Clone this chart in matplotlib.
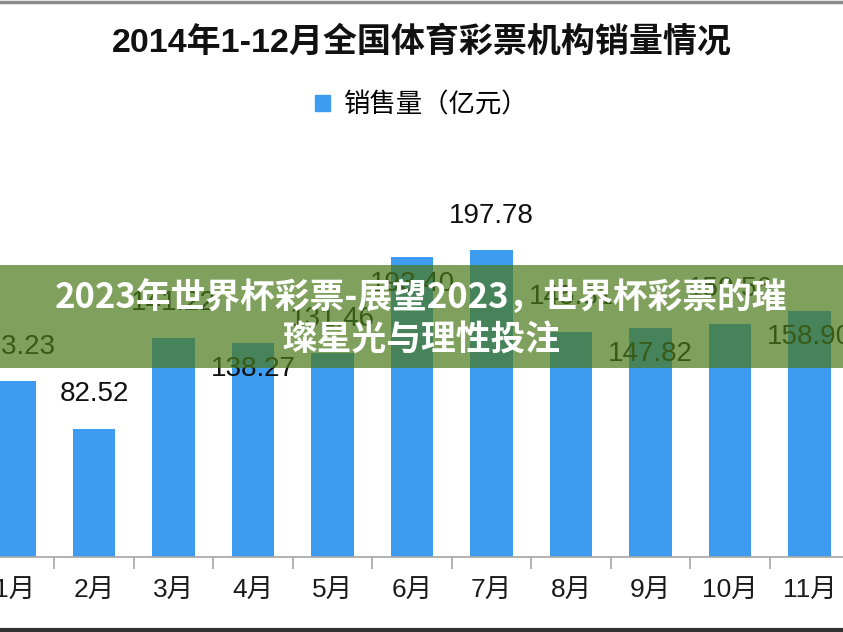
import matplotlib
matplotlib.use("Agg")
import matplotlib.pyplot as plt
from matplotlib import font_manager
from matplotlib.patches import Rectangle, Patch
from matplotlib.lines import Line2D

# data (12月 falls outside the cropped picture)
months = ["1月", "2月", "3月", "4月", "5月", "6月", "7月", "8月", "9月", "10月", "11月"]
sales = [113.23, 82.52, 141.22, 138.27, 131.46, 193.40, 197.78, 145.31, 147.82, 150.56, 158.90]
label_above = [True, True, True, False, True, False, True, True, False, True, False]

title = "2014年1-12月全国体育彩票机构销量情况"
legend_label = "销售量（亿元）"
banner_lines = ["2023年世界杯彩票-展望2023，世界杯彩票的璀", "璨星光与理性投注"]

# fonts
names = {f.name for f in font_manager.fontManager.ttflist}
num_font = "Liberation Sans Narrow" if "Liberation Sans Narrow" in names else "Liberation Sans"
cjk = "Noto Sans CJK SC"
plt.rcParams["font.family"] = [num_font, cjk, "DejaVu Sans"]

W, H = 843, 632
fig = plt.figure(figsize=(W / 100, H / 100), dpi=100)
fig.patch.set_facecolor("white")

# axes: bar baseline at y=557 px, category step 79.5 px, 1月 centre at x=14.5 px
step = 79.5
px_per_unit = 1.55
ax_bottom = H - 557
ax_top = 150
ax = fig.add_axes([0, ax_bottom / H, 1, (H - ax_top - ax_bottom) / H])

x = list(range(len(months)))
ax.bar(x, sales, width=0.53, color="#3d9bf0", zorder=2)

for xi, v, up in zip(x, sales, label_above):
    off = 25 if up else -19
    ax.annotate(f"{v:.2f}", (xi, v), xytext=(0, off), textcoords="offset points",
                ha="center", va="center", fontsize=20, color="#111111", zorder=3)

for s in ["left", "right", "top"]:
    ax.spines[s].set_visible(False)
ax.spines["bottom"].set_color("#a6a6a6")
ax.spines["bottom"].set_linewidth(1.2)
ax.set_yticks([])
ax.set_xticks([i + 0.5 for i in range(-1, len(months))])
ax.set_xticklabels([])
ax.tick_params(axis="x", which="major", length=8.6, width=1.2, color="#a6a6a6")
ax.set_xticks(x, minor=True)
ax.set_xticklabels(months, minor=True, fontsize=19, color="#1a1a1a")
ax.tick_params(axis="x", which="minor", length=0, pad=16)
ax.set_facecolor("none")
# limits after the ticks, otherwise set_xticks widens them
ax.set_xlim(-14.5 / step, (W - 14.5) / step)
ax.set_ylim(0, (H - ax_top - ax_bottom) / px_per_unit)

# title and legend
fig.text(0.5, 1 - 42 / H, title, ha="center", va="center", fontsize=24.5,
         fontweight="bold", color="#111111", family=[num_font, cjk])
ax.legend(handles=[Patch(color="#3d9bf0", label=legend_label)], loc="center",
          bbox_to_anchor=(0.5, 1 - 105 / H), bbox_transform=fig.transFigure,
          frameon=False, handlelength=0.55, handleheight=0.55, handletextpad=0.5,
          prop={"family": [cjk], "size": 19})

# frame lines at top and bottom of the screenshot
fig.add_artist(Line2D([0, 1], [1 - 1.5 / H, 1 - 1.5 / H], color="#8c8c8c", lw=2.5))
fig.add_artist(Line2D([0, 1], [2 / H, 2 / H], color="#333333", lw=3))

# green banner overlay
fig.add_artist(Rectangle((0, (H - 368) / H), 1, 103 / H, transform=fig.transFigure,
                         facecolor="#4a7a1a", alpha=0.7, edgecolor="none", zorder=5))
fig.text(0.5, 1 - 298 / H, banner_lines[0], ha="center", va="center", fontsize=25,
         fontweight="bold", color="white", family=[cjk, "DejaVu Sans"], zorder=6)
fig.text(0.5, 1 - 340 / H, banner_lines[1], ha="center", va="center", fontsize=25,
         fontweight="bold", color="white", family=[cjk, "DejaVu Sans"], zorder=6)

fig.savefig("out.png", dpi=100)
